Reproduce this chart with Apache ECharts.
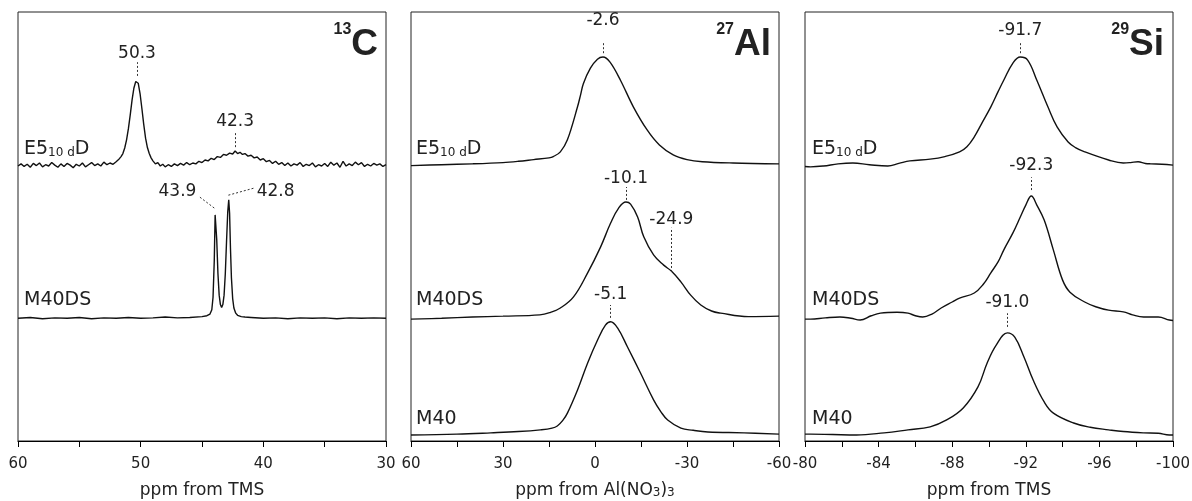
<!DOCTYPE html>
<html>
<head>
<meta charset="utf-8">
<script src="https://cdn.jsdelivr.net/npm/echarts@6/dist/echarts.min.js"></script>
<style>
  html, body { margin: 0; padding: 0; background: #fff; }
  #chart { width: 1192px; height: 501px; }
</style>
</head>
<body>
<div id="chart"></div>
<script>
// spectra: [ppm, intensity] (intensity in arbitrary stacked units, 0..100)
var c13E5 = [
  [60.00, 64.1], [59.75, 64.6], [59.50, 64.0], [59.25, 64.5], [59.00, 63.8], [58.75, 64.7], [58.50, 64.2], [58.25, 64.8],
  [58.00, 63.9], [57.75, 64.4], [57.50, 64.1], [57.25, 64.9], [57.00, 64.3], [56.75, 63.8], [56.50, 64.6], [56.25, 64.0],
  [56.00, 64.7], [55.75, 64.3], [55.50, 63.7], [55.25, 64.5], [55.00, 64.1], [54.75, 64.8], [54.50, 63.9], [54.25, 64.4],
  [54.00, 64.9], [53.75, 64.2], [53.50, 64.6], [53.25, 64.1], [53.00, 65.0], [52.75, 64.4], [52.50, 64.8], [52.25, 64.5],
  [52.00, 65.1], [51.80, 65.6], [51.60, 66.3], [51.45, 67.0], [51.30, 68.3], [51.15, 70.2], [51.00, 72.8], [50.85, 76.0],
  [50.70, 79.5], [50.55, 82.3], [50.40, 83.8], [50.30, 84.1], [50.20, 83.4], [50.05, 81.0], [49.90, 77.5], [49.75, 73.8],
  [49.60, 70.6], [49.45, 68.4], [49.30, 67.0], [49.15, 66.0], [49.00, 65.3], [48.80, 64.6], [48.60, 64.9], [48.40, 64.1],
  [48.20, 64.5], [48.00, 63.9], [47.75, 64.4], [47.50, 64.0], [47.25, 64.6], [47.00, 64.2], [46.75, 64.7], [46.50, 64.3],
  [46.25, 64.9], [46.00, 64.4], [45.75, 64.8], [45.50, 64.6], [45.25, 65.2], [45.00, 64.9], [44.75, 65.5], [44.50, 65.3],
  [44.25, 65.9], [44.00, 65.6], [43.75, 66.3], [43.50, 66.1], [43.25, 66.8], [43.00, 66.6], [42.75, 67.1], [42.50, 66.9],
  [42.30, 67.6], [42.10, 67.0], [41.90, 67.3], [41.70, 66.8], [41.50, 67.0], [41.25, 66.4], [41.00, 66.6], [40.75, 66.0],
  [40.50, 66.2], [40.25, 65.5], [40.00, 65.8], [39.75, 65.1], [39.50, 65.4], [39.25, 64.7], [39.00, 65.2], [38.75, 64.5],
  [38.50, 64.9], [38.25, 64.2], [38.00, 64.8], [37.75, 64.1], [37.50, 64.6], [37.25, 64.3], [37.00, 64.9], [36.75, 64.0],
  [36.50, 64.5], [36.25, 64.2], [36.00, 64.8], [35.75, 63.9], [35.50, 64.4], [35.25, 64.1], [35.00, 64.7], [34.75, 64.0],
  [34.50, 65.0], [34.25, 64.3], [34.00, 64.8], [33.75, 63.8], [33.50, 65.2], [33.25, 64.1], [33.00, 64.6], [32.75, 64.2],
  [32.50, 65.0], [32.25, 64.4], [32.00, 64.9], [31.75, 64.0], [31.50, 64.5], [31.25, 64.1], [31.00, 64.7], [30.75, 64.3],
  [30.50, 64.6], [30.25, 64.0], [30.00, 64.4]
];
var c13M40DS = [
  [60, 28.6], [59, 28.8], [58, 28.5], [57, 28.7], [56, 28.6], [55, 28.8], [54, 28.5], [53, 28.7], [52, 28.6], [51, 28.8],
  [50, 28.6], [49, 28.7], [48, 28.9], [47, 28.7], [46, 28.8], [45, 29.0], [44.6, 29.2], [44.35, 29.6], [44.2, 30.6],
  [44.1, 33.5], [44.0, 42.0], [43.93, 52.7], [43.87, 52.4], [43.8, 47.0], [43.7, 39.0], [43.6, 34.0], [43.5, 31.8],
  [43.4, 31.1], [43.3, 31.8], [43.2, 34.0], [43.1, 39.0], [43.0, 46.5], [42.9, 53.5], [42.82, 56.2], [42.75, 53.0],
  [42.68, 45.0], [42.6, 38.0], [42.5, 33.2], [42.4, 31.0], [42.25, 29.8], [42.1, 29.3], [41.8, 29.0], [41.5, 28.9],
  [41, 28.8], [40, 28.6], [39, 28.7], [38, 28.5], [37, 28.7], [36, 28.6], [35, 28.7], [34, 28.5], [33, 28.7],
  [32, 28.6], [31, 28.7], [30, 28.6]
];
var alE5 = [
  [60, 64.2], [50, 64.4], [40, 64.6], [30, 64.9], [25, 65.2], [20, 65.6], [15, 66.0], [13.6, 66.3], [11.3, 67.4], [9, 70.2],
  [5.7, 77.9], [4.7, 80.7], [3.8, 83.3], [1.5, 86.9], [-0.8, 89.0], [-2.6, 89.5], [-4.9, 88.3], [-8.3, 84.1],
  [-12.5, 77.9], [-17, 72.5], [-21, 69.0], [-25.5, 66.7], [-30, 65.6], [-35, 65.1], [-45, 64.8], [-60, 64.6]
];
var alM40DS = [
  [60, 28.4], [50, 28.6], [40, 28.9], [30, 29.1], [18, 29.4], [14.5, 30.0], [11.3, 31.0], [7, 33.6], [2.4, 39.2],
  [-1.8, 45.2], [-5.1, 50.8], [-7.7, 54.3], [-10.1, 55.7], [-11.6, 55.2], [-13.9, 52.2], [-15.9, 47.6], [-19.1, 43.4],
  [-22.4, 41.0], [-24.9, 39.6], [-28, 37.1], [-31.2, 34.0], [-34.5, 31.7], [-38, 30.3], [-41, 29.8], [-50, 29.0], [-60, 29.1]
];
var alM40 = [
  [60, 1.4], [45, 1.6], [34, 1.9], [25, 2.2], [17.8, 2.6], [14, 3.0], [12.3, 3.5], [10.5, 4.8], [9, 6.5], [5.7, 11.9],
  [2.4, 18.2], [-0.8, 23.5], [-3.4, 27.0], [-5.1, 27.8], [-7.4, 26.3], [-10.6, 21.9], [-14.8, 15.9], [-19.1, 9.6],
  [-21.5, 6.8], [-23.7, 4.9], [-28, 3.0], [-32, 2.5], [-36.8, 2.1], [-48.6, 1.9], [-60, 1.6]
];
var siE5 = [
  [-80, 64.0], [-80.3, 63.9], [-81, 64.1], [-81.8, 64.6], [-82.6, 64.8], [-83.5, 64.4], [-84.5, 64.1], [-85.1, 64.7],
  [-85.7, 65.3], [-86.8, 65.7], [-87.6, 66.3], [-88.4, 67.4], [-88.8, 68.6], [-89.2, 70.9], [-89.6, 74.0], [-90.1, 77.9],
  [-90.5, 81.5], [-90.8, 84.1], [-91.3, 88.1], [-91.7, 89.5], [-92.1, 88.8], [-92.6, 84.1], [-93.2, 77.9], [-93.7, 73.2],
  [-94.3, 69.7], [-94.7, 68.4], [-95.2, 67.4], [-96.5, 65.5], [-97.3, 64.8], [-97.7, 64.9], [-98.1, 65.1], [-98.5, 64.7],
  [-98.8, 64.6], [-99.4, 64.5], [-100, 64.3]
];
var siM40DS = [
  [-80, 28.4], [-80.3, 28.4], [-81.1, 28.7], [-81.9, 28.9], [-82.5, 28.6], [-83.0, 28.2], [-83.6, 29.2], [-84.1, 29.8],
  [-85.0, 30.0], [-85.6, 29.8], [-86.0, 29.2], [-86.4, 28.9], [-86.9, 29.6], [-87.4, 31.0], [-88.0, 32.4], [-88.4, 33.3],
  [-89.2, 34.5], [-89.7, 36.6], [-90.1, 39.2], [-90.5, 41.8], [-90.8, 44.5], [-91.3, 48.5], [-91.7, 52.2], [-92.0, 55.0],
  [-92.3, 57.1], [-92.6, 55.0], [-93.0, 51.5], [-93.5, 44.5], [-94.0, 37.5], [-94.4, 34.7], [-95.2, 32.4], [-95.8, 31.3],
  [-96.5, 30.5], [-97.3, 30.1], [-97.8, 29.4], [-98.4, 28.9], [-99.2, 28.9], [-99.8, 28.2], [-100, 28.1]
];
var siM40 = [
  [-80, 1.6], [-80.3, 1.6], [-81.5, 1.5], [-82.8, 1.4], [-84.3, 1.9], [-85.6, 2.6], [-86.8, 3.3], [-87.7, 4.9],
  [-88.6, 7.7], [-89.4, 12.6], [-89.9, 18.2], [-90.4, 22.4], [-91.0, 25.2], [-91.4, 24.2], [-91.9, 19.6], [-92.4, 14.2],
  [-93.0, 9.1], [-93.5, 6.5], [-94.6, 4.2], [-95.5, 3.2], [-96.5, 2.6], [-97.3, 2.2], [-98.4, 1.9], [-99.2, 1.8],
  [-99.8, 1.4], [-100, 1.4]
];

// peak positions (ppm)
var c13Peaks = [50.3, 42.3, 43.9, 42.8];
var alPeaks = [-2.6, -10.1, -24.9, -5.1];
var siPeaks = [-91.7, -92.3, -91.0];

var FONT = 'DejaVu Sans';
var TXT = '#222';
var LINE = '#111';

var chart = echarts.init(document.getElementById('chart'));

function fmt(v) { return v.toFixed(1); }
function vline(ppm, y0, y1) { return [{ coord: [ppm, y0] }, { coord: [ppm, y1] }]; }
function leader(x0, y0, x1, y1) { return [{ coord: [x0, y0] }, { coord: [x1, y1] }]; }
function tag(ppm, y, v) { return { coord: [ppm, y], name: fmt(v) }; }

function marks(lines, tags) {
  return {
    markLine: {
      silent: true, symbol: ['none', 'none'], animation: false,
      lineStyle: { color: '#333', width: 1, type: [2, 2] },
      label: { show: false },
      data: lines
    },
    markPoint: {
      silent: true, symbol: 'rect', symbolSize: 1, animation: false,
      itemStyle: { color: 'rgba(0,0,0,0)' },
      label: { show: true, position: 'inside', formatter: '{b}', color: TXT, fontSize: 17, fontFamily: FONT },
      data: tags
    }
  };
}

function spec(name, idx, data, smooth, extra) {
  var s = {
    name: name, type: 'line', xAxisIndex: idx, yAxisIndex: idx, data: data,
    showSymbol: false, smooth: smooth, silent: true,
    lineStyle: { color: LINE, width: 1.4 }
  };
  if (extra) { s.markLine = extra.markLine; s.markPoint = extra.markPoint; }
  return s;
}

function xAxis(idx, min, max, interval, name, gap) {
  return {
    type: 'value', gridIndex: idx, min: min, max: max, interval: interval, inverse: true,
    axisLine: { show: true, onZero: false, lineStyle: { color: '#000', width: 1.2 } },
    axisTick: { show: true, length: 6, lineStyle: { color: '#000' } },
    minorTick: { show: true, splitNumber: 2, length: 6, lineStyle: { color: '#000' } },
    splitLine: { show: false },
    axisLabel: { fontSize: 15, color: TXT, fontFamily: FONT, margin: 16 },
    name: name, nameLocation: 'middle', nameGap: gap,
    nameTextStyle: {
      fontSize: 17, color: TXT, fontFamily: FONT, verticalAlign: 'top',
      rich: {
        m: { fontSize: 17, lineHeight: 17, fontFamily: FONT, color: TXT, verticalAlign: 'top', padding: [0, 0, 4, 0] },
        s: { fontSize: 12, lineHeight: 12, fontFamily: FONT, color: TXT, verticalAlign: 'bottom' }
      }
    }
  };
}

function yAxis(idx) {
  return { type: 'value', gridIndex: idx, min: 0, max: 100, show: false };
}

var subRich = {
  a: { fontSize: 19, lineHeight: 19, fontFamily: FONT, fill: TXT, color: TXT, verticalAlign: 'top', padding: [0, 0, 4, 0] },
  s: { fontSize: 12, lineHeight: 12, fontFamily: FONT, fill: TXT, color: TXT, verticalAlign: 'bottom' }
};
var elemRich = {
  sup: { fontSize: 16, lineHeight: 16, fontWeight: 'bold', fontFamily: 'Liberation Sans', fill: TXT, color: TXT, verticalAlign: 'top' },
  big: { fontSize: 37, lineHeight: 37, fontWeight: 'bold', fontFamily: 'Liberation Sans', fill: TXT, color: TXT, verticalAlign: 'top', padding: [4, 0, 0, 0] }
};
function label(x, y, text) {
  return { type: 'text', x: x, y: y, silent: true, style: { text: text, rich: subRich, align: 'left', verticalAlign: 'top', fill: TXT } };
}
function elem(x, text) {
  return { type: 'text', x: x, y: 22, silent: true, style: { text: text, rich: elemRich, align: 'right', verticalAlign: 'top', fill: TXT } };
}

var c13Marks = marks(
  [vline(c13Peaks[0], 85.1, 88.3), vline(c13Peaks[1], 68.5, 72.0),
   leader(44.0, 54.3, 45.2, 56.9), leader(42.85, 57.3, 40.7, 59.0)],
  [tag(c13Peaks[0], 90.4, c13Peaks[0]), tag(c13Peaks[1], 74.4, c13Peaks[1]),
   tag(47.0, 58.1, c13Peaks[2]), tag(39.0, 58.1, c13Peaks[3])]
);
var alMarks = marks(
  [vline(alPeaks[0], 90.4, 92.8), vline(alPeaks[1], 56.2, 59.2), vline(alPeaks[2], 39.4, 49.7), vline(alPeaks[3], 28.7, 31.7)],
  [tag(alPeaks[0], 98.0, alPeaks[0]), tag(alPeaks[1], 61.2, alPeaks[1]), tag(alPeaks[2], 51.5, alPeaks[2]), tag(alPeaks[3], 34.2, alPeaks[3])]
);
var siMarks = marks(
  [vline(siPeaks[0], 90.4, 93.0), vline(siPeaks[1], 58.5, 61.5), vline(siPeaks[2], 26.6, 29.8)],
  [tag(siPeaks[0], 95.7, siPeaks[0]), tag(siPeaks[1], 64.1, siPeaks[1]), tag(siPeaks[2], 32.3, siPeaks[2])]
);

var gridBase = {
  top: 12, height: 429, width: 368, show: true, borderColor: '#222', borderWidth: 1,
  backgroundColor: 'transparent', containLabel: false, outerBoundsMode: 'none'
};

chart.setOption({
  animation: false,
  backgroundColor: '#fff',
  grid: [
    Object.assign({ left: 18 }, gridBase),
    Object.assign({ left: 411 }, gridBase),
    Object.assign({ left: 805 }, gridBase)
  ],
  xAxis: [
    xAxis(0, 30, 60, 10, 'ppm from TMS', 41),
    xAxis(1, -60, 60, 30, '{m|ppm from Al(NO}{s|3}{m|)}{s|3}', 41),
    xAxis(2, -100, -80, 4, 'ppm from TMS', 41)
  ],
  yAxis: [yAxis(0), yAxis(1), yAxis(2)],
  series: [
    spec('E5 13C', 0, c13E5, false, c13Marks),
    spec('M40DS 13C', 0, c13M40DS, false),
    spec('E5 27Al', 1, alE5, 0.35, alMarks),
    spec('M40DS 27Al', 1, alM40DS, 0.4),
    spec('M40 27Al', 1, alM40, 0.4),
    spec('E5 29Si', 2, siE5, 0.4, siMarks),
    spec('M40DS 29Si', 2, siM40DS, 0.4),
    spec('M40 29Si', 2, siM40, 0.4)
  ],
  graphic: [
    label(24, 140, '{a|E5}{s|10 d}{a|D}'),
    label(24, 291, '{a|M40DS}'),
    label(416, 140, '{a|E5}{s|10 d}{a|D}'),
    label(416, 291, '{a|M40DS}'),
    label(416, 410, '{a|M40}'),
    label(812, 140, '{a|E5}{s|10 d}{a|D}'),
    label(812, 291, '{a|M40DS}'),
    label(812, 410, '{a|M40}'),
    elem(378, '{sup|13}{big|C}'),
    elem(771, '{sup|27}{big|Al}'),
    elem(1164, '{sup|29}{big|Si}')
  ]
});
</script>
</body>
</html>
